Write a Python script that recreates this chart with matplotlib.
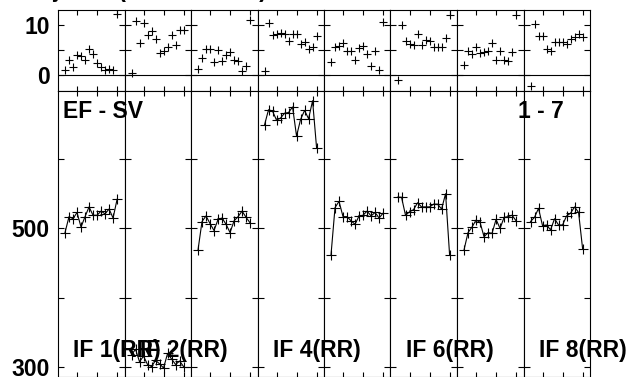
import matplotlib.pyplot as plt

plt.rcParams['font.family'] = ['Liberation Sans', 'DejaVu Sans']
plt.rcParams['font.weight'] = 'bold'

# beat index along each panel
beats = [2, 3, 4, 5, 6, 7, 8, 9, 10, 11, 12, 13, 14, 15]

# labels under the panels (only some panels are labelled)
if_labels = ["IF 1(RR)", "IF 2(RR)", "", "IF 4(RR)", "", "IF 6(RR)", "", "IF 8(RR)"]

# top strip values, one list per panel
top_1 = [1.0, 3.1, 1.7, 4.1, 3.8, 3.1, 5.3, 4.2, 2.5, 1.7, 1.0, 1.3, 1.0, 12.2]
top_2 = [0.5, 10.9, 6.5, 10.5, 8.0, 8.9, 7.2, 4.5, 4.8, 5.7, 8.0, 6.0, 9.1, 9.1]
top_3 = [1.2, 3.5, 5.2, 5.2, 2.7, 5.1, 2.9, 4.0, 4.7, 3.1, 2.8, 0.8, 1.9, 11.0]
top_4 = [0.9, 10.5, 8.1, 8.3, 8.5, 8.3, 6.8, 8.3, 8.3, 6.2, 6.6, 5.3, 5.7, 7.8]
top_5 = [2.7, 5.7, 5.8, 6.5, 4.9, 4.9, 3.1, 5.5, 5.8, 4.2, 1.8, 4.8, 1.0, 10.7]
top_6 = [-1.0, 10.0, 6.9, 6.3, 6.1, 8.2, 6.1, 7.0, 6.9, 5.7, 5.7, 5.7, 7.5, 12.0]
top_7 = [2.0, 4.8, 4.3, 5.7, 4.5, 4.7, 4.8, 6.5, 3.0, 4.9, 3.0, 2.8, 4.7, 12.0]
top_8 = [-2.2, 10.3, 7.8, 7.8, 5.3, 4.8, 6.7, 6.7, 6.7, 6.3, 7.3, 7.7, 8.2, 7.7]

# main panel values (EF - SV), one list per panel
main_1 = [494, 517, 514, 523, 502, 517, 531, 519, 519, 525, 521, 528, 515, 542]
main_2 = [318, 326, 308, 316, 304, 301, 310, 305, 299, 320, 312, 304, 309, 301]
main_3 = [469, 510, 518, 507, 497, 513, 515, 506, 494, 511, 517, 525, 516, 508]
main_4 = [649, 671, 669, 656, 659, 666, 667, 675, 633, 657, 670, 658, 684, 616]
main_5 = [462, 530, 539, 517, 517, 511, 506, 518, 519, 525, 518, 523, 515, 522]
main_6 = [545, 545, 519, 524, 527, 537, 531, 531, 531, 535, 535, 528, 550, 462]
main_7 = [469, 494, 502, 512, 509, 488, 494, 493, 513, 500, 516, 517, 519, 511]
main_8 = [510, 516, 529, 504, 505, 498, 514, 505, 505, 518, 522, 531, 523, 471]

tops = [top_1, top_2, top_3, top_4, top_5, top_6, top_7, top_8]
mains = [main_1, main_2, main_3, main_4, main_5, main_6, main_7, main_8]

W, H = 631, 377
fig = plt.figure(figsize=(W / 100, H / 100), dpi=100)


def box(x0, y0, x1, y1):
    return [x0 / W, 1 - y1 / H, (x1 - x0) / W, (y1 - y0) / H]


fs = 16.5
left0, pw = 58, 66.5
for i in range(8):
    xl = left0 + i * pw
    ax_t = fig.add_axes(box(xl, 10, xl + pw, 91))
    ax_m = fig.add_axes(box(xl, 91, xl + pw, 377))

    ax_t.plot(beats, tops[i], '+', color='k', ms=6, mew=0.8)
    ax_t.axhline(0, color='k', lw=0.8)
    ax_t.set_ylim(-3.2, 13)
    ax_t.set_yticks([0, 5, 10])
    ax_t.set_yticklabels(['0', '', '10'])

    ax_m.plot(beats, mains[i], '-+', color='k', lw=0.8, ms=7, mew=0.8)
    ax_m.set_ylim(286, 698)
    ax_m.set_yticks([300, 400, 500, 600])
    ax_m.set_yticklabels(['300', '', '500', ''])

    for ax in (ax_t, ax_m):
        ax.set_xlim(0.25, 16.85)
        ax.set_xticks([5, 10, 15])
        ax.tick_params(axis='x', direction='in', top=True, bottom=True,
                       length=3.5, width=0.8, labelbottom=False)
        ax.tick_params(axis='y', direction='in', left=True, right=True,
                       length=4, width=0.8, labelleft=(i == 0),
                       labelsize=fs, pad=6)
        for s in ax.spines.values():
            s.set_linewidth(0.8)

    if if_labels[i]:
        fig.text(0.226, 20 / 286, if_labels[i], transform=ax_m.transAxes,
                 ha='left', va='baseline', fontsize=fs, weight='bold')

    if i == 0:
        fig.text(0.075, 1 - 27 / 286, "EF - SV", transform=ax_m.transAxes,
                 ha='left', va='baseline', fontsize=fs, weight='bold')
    if i == 7:
        fig.text(-0.09, 1 - 27 / 286, "1 - 7", transform=ax_m.transAxes,
                 ha='left', va='baseline', fontsize=fs, weight='bold')

# title, mostly outside the top edge
fig.text(138 / W, 1 + 3 / H, "Subject 1 (RR intervals)", ha='center',
         va='baseline', fontsize=fs, weight='bold')

fig.savefig("out.png", dpi=100)
